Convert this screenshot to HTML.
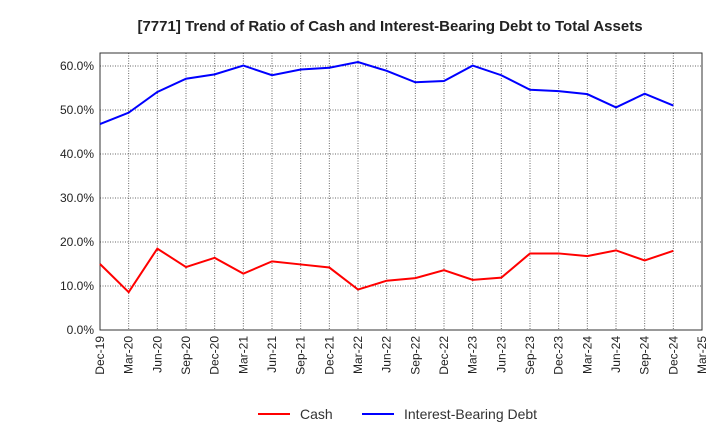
<!DOCTYPE html>
<html><head><meta charset="utf-8"><style>
body{margin:0;background:#fff;font-family:"Liberation Sans",sans-serif;}
</style></head><body>
<svg id="chart" width="720" height="440" xmlns="http://www.w3.org/2000/svg" font-family="Liberation Sans, sans-serif">
<text x="390" y="31" text-anchor="middle" font-size="15" font-weight="bold" fill="#222">[7771]  Trend of Ratio of Cash and Interest-Bearing Debt to Total Assets</text>
<g id="grid"></g><g id="axes"></g><g id="series"></g>
<g>
<line x1="258" y1="414" x2="290" y2="414" stroke="#f00" stroke-width="2"/>
<text x="300" y="419" font-size="14" fill="#333">Cash</text>
<line x1="362" y1="414" x2="394" y2="414" stroke="#00f" stroke-width="2"/>
<text x="404" y="419" font-size="14" fill="#333">Interest-Bearing Debt</text>
</g>
</svg>
<script>
const categories=["Dec-19","Mar-20","Jun-20","Sep-20","Dec-20","Mar-21","Jun-21","Sep-21","Dec-21","Mar-22","Jun-22","Sep-22","Dec-22","Mar-23","Jun-23","Sep-23","Dec-23","Mar-24","Jun-24","Sep-24","Dec-24","Mar-25"];
const cashValues=[15.0,8.6,18.5,14.3,16.4,12.8,15.6,14.9,14.2,9.2,11.2,11.8,13.6,11.4,11.9,17.4,17.4,16.8,18.1,15.8,18.0];
const debtValues=[46.8,49.4,54.1,57.1,58.1,60.1,57.9,59.2,59.6,60.9,58.9,56.3,56.6,60.1,57.9,54.6,54.3,53.6,50.6,53.7,51.0];
const yTicks=[0,10,20,30,40,50,60];
const L=100,R=702,T=53,B=330,NS="http://www.w3.org/2000/svg";
const x=i=>L+i*(R-L)/(categories.length-1);
const y=v=>B-v*(B-66)/60;
function mk(t,a,p){const e=document.createElementNS(NS,t);for(const k in a)e.setAttribute(k,a[k]);document.getElementById(p).appendChild(e);return e;}
const fr=mk('rect',{x:L,y:T,width:R-L,height:B-T,fill:'none',stroke:'#333'},'axes');


categories.forEach((c,i)=>{
 if(i>0&&i<categories.length-1){const g=mk('line',{x1:x(i),x2:x(i),y1:T,y2:B,stroke:'#666','stroke-dasharray':'1,1.5'},'grid');
 
 }
 const t=mk('text',{transform:`translate(${x(i)+4},${B+6}) rotate(-90)`,'text-anchor':'end','font-size':12,fill:'#222'},'axes');
 t.textContent=c;
 
 
});
yTicks.forEach(v=>{
 if(v>0){const g=mk('line',{x1:L,x2:R,y1:y(v),y2:y(v),stroke:'#666','stroke-dasharray':'1,1.5'},'grid');
 
 }
 const t=mk('text',{x:L-6,y:y(v)+4,'text-anchor':'end','font-size':12,fill:'#222'},'axes');
 t.textContent=v.toFixed(1)+'%';
 
 
});
function line(vals,col,name){
 const p=mk('polyline',{points:vals.map((v,i)=>x(i)+','+y(v)).join(' '),fill:'none',stroke:col,'stroke-width':2},'series');
 
 
}
line(cashValues,'#f00','cash-line');
line(debtValues,'#00f','debt-line');
</script>
</body></html>
